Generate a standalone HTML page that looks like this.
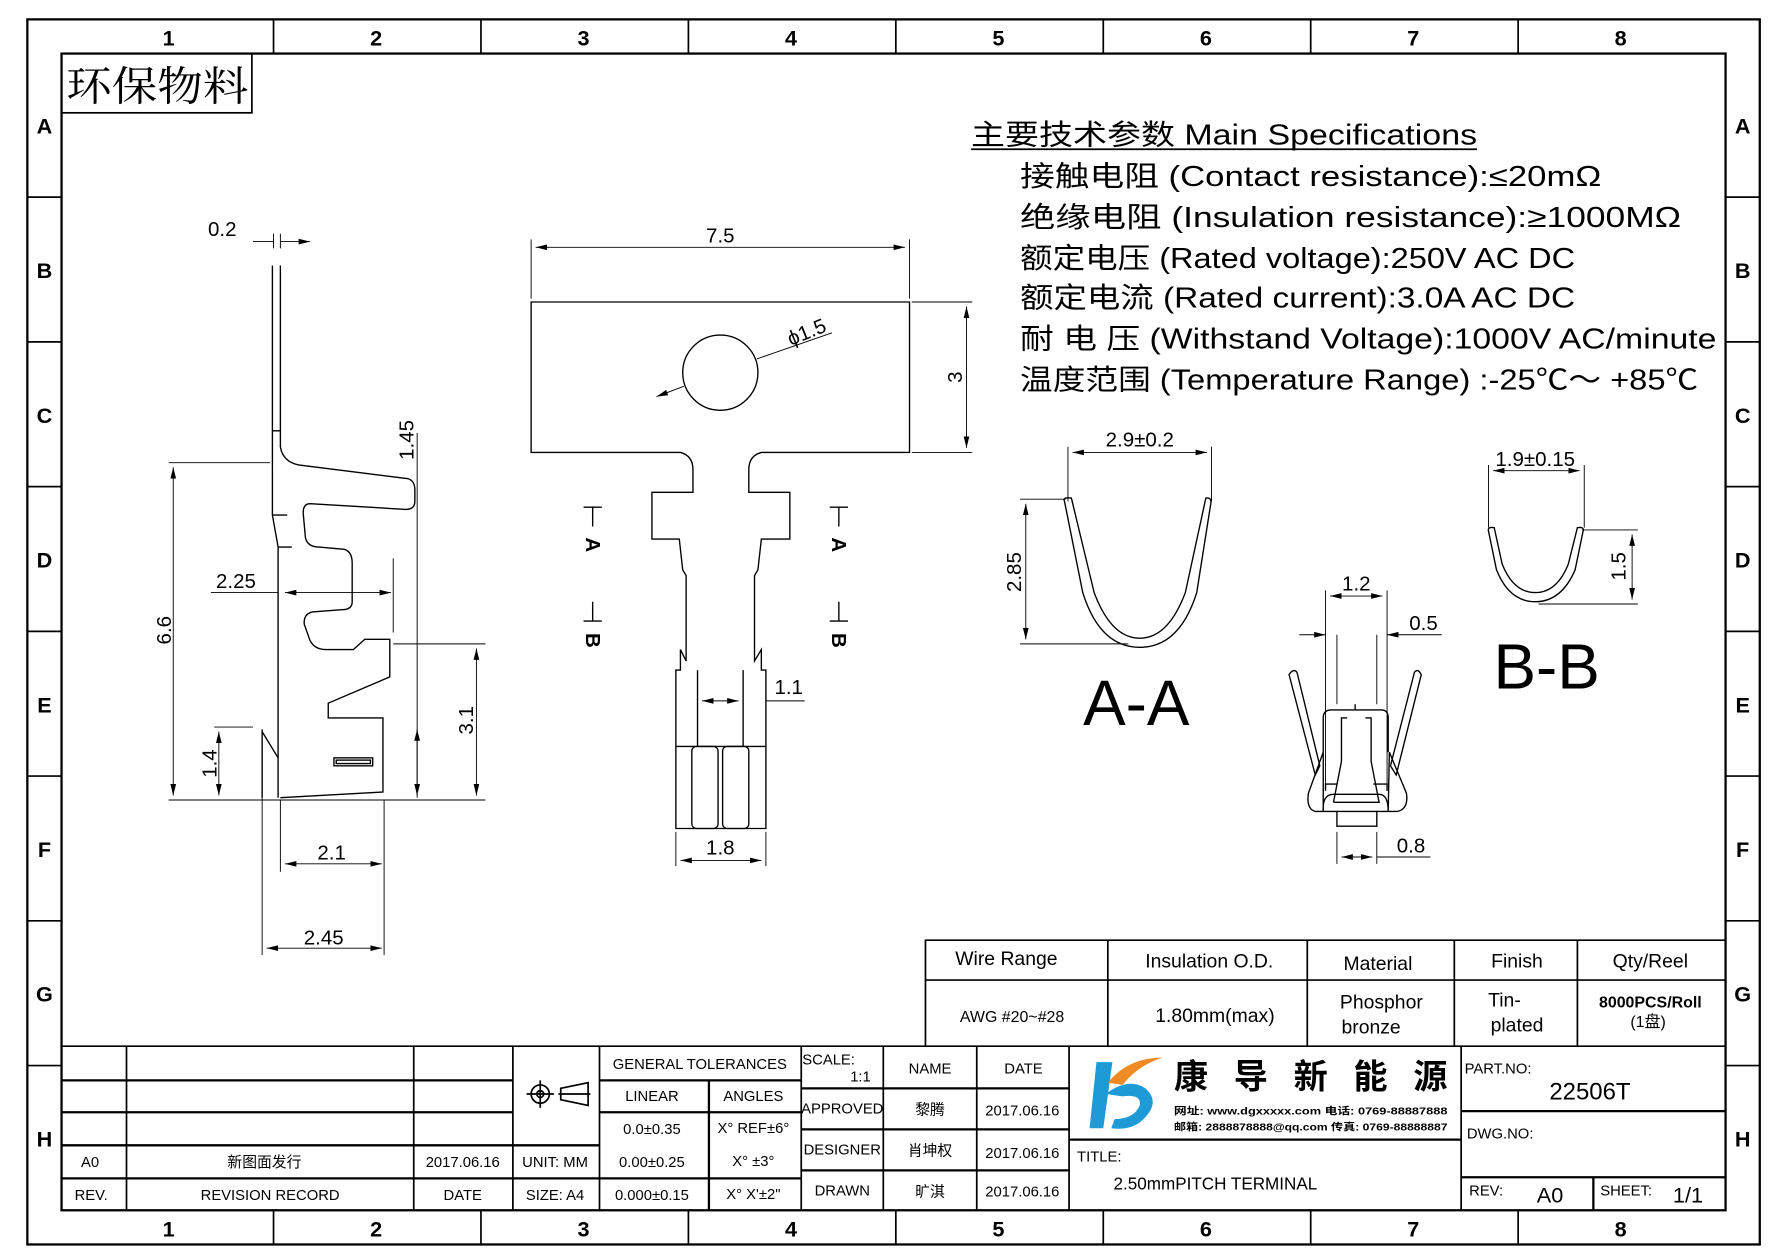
<!DOCTYPE html>
<html><head><meta charset="utf-8"><style>
html,body{margin:0;padding:0;background:#fff;}
svg{display:block;}
text{font-family:"Liberation Sans Narrow","Liberation Sans","Noto Sans CJK SC",sans-serif;fill:#000;}
.m{font-family:"Liberation Mono","Noto Sans CJK SC",monospace;}
.s{font-family:"Liberation Serif","Noto Serif CJK SC",serif;}
</style></head><body>
<svg width="1778" height="1257" viewBox="0 0 1560 1103" preserveAspectRatio="none" xmlns="http://www.w3.org/2000/svg">
<defs>
<marker id="a" viewBox="0 0 10 6" refX="10" refY="3" markerWidth="10" markerHeight="6" orient="auto-start-reverse" markerUnits="userSpaceOnUse"><path d="M0,0.5L10,3L0,5.5z" fill="#000"/></marker>
</defs>
<rect width="1560" height="1103" fill="#fff"/>
<g fill="none" stroke="#000">
<rect x="24" y="17" width="1520" height="1075" stroke-width="2"/>
<rect x="54" y="47" width="1460" height="1015" stroke-width="2"/>
<path d="M240,17V47M422,17V47M604,17V47M786,17V47M968,17V47M1150,17V47M1332,17V47M240,1062V1092M422,1062V1092M604,1062V1092M786,1062V1092M968,1062V1092M1150,1062V1092M1332,1062V1092" stroke-width="1.5"/>
<path d="M24,173H54M24,300H54M24,427H54M24,554H54M24,681H54M24,808H54M24,935H54M1514,173H1544M1514,300H1544M1514,427H1544M1514,554H1544M1514,681H1544M1514,808H1544M1514,935H1544" stroke-width="1.5"/>
<rect x="54" y="47" width="167" height="52" stroke-width="1.5"/>
</g>
<g font-size="19" text-anchor="middle" font-weight="bold">
<text x="148" y="40">1</text><text x="330" y="40">2</text><text x="512" y="40">3</text><text x="694" y="40">4</text><text x="876" y="40">5</text><text x="1058" y="40">6</text><text x="1240" y="40">7</text><text x="1422" y="40">8</text>
<text x="148" y="1085">1</text><text x="330" y="1085">2</text><text x="512" y="1085">3</text><text x="694" y="1085">4</text><text x="876" y="1085">5</text><text x="1058" y="1085">6</text><text x="1240" y="1085">7</text><text x="1422" y="1085">8</text>
<text x="39" y="117">A</text><text x="39" y="244">B</text><text x="39" y="371">C</text><text x="39" y="498">D</text><text x="39" y="625">E</text><text x="39" y="752">F</text><text x="39" y="879">G</text><text x="39" y="1006">H</text>
<text x="1529" y="117">A</text><text x="1529" y="244">B</text><text x="1529" y="371">C</text><text x="1529" y="498">D</text><text x="1529" y="625">E</text><text x="1529" y="752">F</text><text x="1529" y="879">G</text><text x="1529" y="1006">H</text>
</g>
<text x="58" y="88" font-size="36" class="s" textLength="160" lengthAdjust="spacingAndGlyphs">环保物料</text>

<!-- specs -->
<g font-size="25" class="m">
<text x="852" y="127" textLength="444" lengthAdjust="spacingAndGlyphs">主要技术参数 Main Specifications</text>
<text x="895" y="163" textLength="510" lengthAdjust="spacingAndGlyphs">接触电阻 (Contact resistance):≤20mΩ</text>
<text x="895" y="199" textLength="580" lengthAdjust="spacingAndGlyphs">绝缘电阻 (Insulation resistance):≥1000MΩ</text>
<text x="895" y="235" textLength="487" lengthAdjust="spacingAndGlyphs">额定电压 (Rated voltage):250V AC DC</text>
<text x="895" y="270" textLength="487" lengthAdjust="spacingAndGlyphs">额定电流 (Rated current):3.0A AC DC</text>
<text x="895" y="306" textLength="611" lengthAdjust="spacingAndGlyphs">耐 电 压 (Withstand Voltage):1000V AC/minute</text>
<text x="895" y="342" textLength="595" lengthAdjust="spacingAndGlyphs">温度范围 (Temperature Range) :-25℃～ +85℃</text>
</g>
<line x1="852" y1="131" x2="1296" y2="131" stroke="#000" stroke-width="1.5"/>

<!-- side view -->
<g fill="none" stroke="#000" stroke-width="1.2">
<path d="M239,233V452L244,480V700M246,233V392Q248,405 262,408L358,420Q364,422 364,430V440Q364,447 356,447L272,442Q266,442 266,450L268,472Q270,480 280,480L302,482Q309,484 309,494V528Q309,535 300,535L274,537Q266,539 267,548L272,562Q276,570 286,570L310,570L320,561H342V594L288,617V630H336V695L246,700"/>
<path d="M239,378H246M239,452H252M244,480H256"/>
<path d="M230,640V700M230,642L244,665"/>
<rect x="293" y="665" width="34" height="7"/>
<rect x="295" y="667" width="30" height="3"/>
</g>
<g fill="none" stroke="#000" stroke-width="0.8">
<path d="M240,205V218M246,205V218M222,212H240M246,212H272" marker-end="url(#a)"/>
<path d="M148,406H237M148,702H426M345,565H426M188,638H222M366,380V700M246,702V765M337,702V838M230,650V838M345,490V555"/>
<path d="M152,410V698" marker-start="url(#a)" marker-end="url(#a)"/>
<path d="M192,642V698" marker-start="url(#a)" marker-end="url(#a)"/>
<path d="M418,569V698" marker-start="url(#a)" marker-end="url(#a)"/>
<path d="M366,640V698" marker-start="url(#a)" marker-end="url(#a)"/>
<path d="M185,520H244" /><path d="M250,520H343" marker-start="url(#a)" marker-end="url(#a)"/>
<path d="M250,758H335" marker-start="url(#a)" marker-end="url(#a)"/>
<path d="M234,832H335" marker-start="url(#a)" marker-end="url(#a)"/>
</g>
<g font-size="18" text-anchor="middle" fill="#000" style="font-weight:300">
<text x="195" y="207">0.2</text>
<text x="207" y="516">2.25</text>
<text x="291" y="754">2.1</text>
<text x="284" y="829">2.45</text>
<text transform="translate(150,553) rotate(-90)">6.6</text>
<text transform="translate(190,670) rotate(-90)">1.4</text>
<text transform="translate(415,632) rotate(-90)">3.1</text>
<text transform="translate(363,386) rotate(-90)">1.45</text>
</g>

<!-- top view -->
<g fill="none" stroke="#000" stroke-width="1.2">
<path d="M466,265H798V397H668Q657,400 657,412V432H693V473H668L665,500L662,505V580L668,570V588H672V727H593V588H597V570L602,580V505L599,500L596,473H572V432H608V412Q608,400 597,397H466Z"/>
<circle cx="632" cy="327" r="33"/>
<path d="M612,588V655M652,588V655M593,655H672"/>
<rect x="607" y="655" width="23" height="72" rx="4"/>
<rect x="634" y="655" width="23" height="72" rx="4"/>
</g>
<g fill="none" stroke="#000" stroke-width="0.8">
<path d="M466,210V262M798,210V262M800,265H853M800,397H853M593,760V730M672,760V730M672,615H706"/>
<path d="M470,217H794" marker-start="url(#a)" marker-end="url(#a)"/>
<path d="M848,269V393" marker-start="url(#a)" marker-end="url(#a)"/>
<path d="M576,348L600,339M664,315L730,292" marker-start="url(#a)"/>
<path d="M616,615H648" marker-start="url(#a)" marker-end="url(#a)"/>
<path d="M597,755H668" marker-start="url(#a)" marker-end="url(#a)"/>
<path d="M520,445V462M520,528V545M736,445V462M736,528V545M512,445H528M512,545H528M728,445H744M728,545H744" stroke-width="1.2"/>
</g>
<g font-size="18" text-anchor="middle" style="font-weight:300">
<text x="632" y="213">7.5</text>
<text transform="translate(844,331) rotate(-90)">3</text>
<text transform="translate(710,297) rotate(-22)">ϕ1.5</text>
<text x="692" y="609">1.1</text>
<text x="632" y="750">1.8</text>
</g>
<g font-size="18" font-weight="bold" text-anchor="middle">
<text transform="translate(514,478) rotate(90)">A</text>
<text transform="translate(514,562) rotate(90)">B</text>
<text transform="translate(730,478) rotate(90)">A</text>
<text transform="translate(730,562) rotate(90)">B</text>
</g>

<!-- A-A -->
<g fill="none" stroke="#000" stroke-width="1.2">
<path d="M934,440Q932,436 940,437L960,520Q975,560 1000,560Q1025,560 1040,520L1058,437Q1064,436 1062,444L1050,520Q1035,568 1000,568Q965,568 950,520Z"/>
</g>
<g fill="none" stroke="#000" stroke-width="0.8">
<path d="M937,392V440M1063,392V440M895,438H935M895,565H990"/>
<path d="M941,397H1059" marker-start="url(#a)" marker-end="url(#a)"/>
<path d="M900,442V561" marker-start="url(#a)" marker-end="url(#a)"/>
</g>
<text x="1000" y="392" font-size="18" text-anchor="middle">2.9±0.2</text>
<text transform="translate(896,502) rotate(-90)" font-size="18" text-anchor="middle">2.85</text>
<text x="997" y="636" font-size="56" text-anchor="middle" style="font-family:'Liberation Sans',sans-serif">A-A</text>

<!-- B-B -->
<g fill="none" stroke="#000" stroke-width="1.2">
<path d="M1306,466Q1305,462 1311,463L1318,495Q1328,520 1347,520Q1366,520 1376,495L1384,463Q1390,462 1389,466L1382,500Q1370,528 1347,528Q1324,528 1313,500Z"/>
</g>
<g fill="none" stroke="#000" stroke-width="0.8">
<path d="M1306,408V463M1390,408V463M1388,465H1437M1350,530H1437"/>
<path d="M1310,413H1386" marker-start="url(#a)" marker-end="url(#a)"/>
<path d="M1432,469V526" marker-start="url(#a)" marker-end="url(#a)"/>
</g>
<text x="1347" y="409" font-size="18" text-anchor="middle">1.9±0.15</text>
<text transform="translate(1426,497) rotate(-90)" font-size="18" text-anchor="middle">1.5</text>
<text x="1357" y="604" font-size="56" text-anchor="middle" style="font-family:'Liberation Sans',sans-serif">B-B</text>

<!-- center section -->
<g fill="none" stroke="#000" stroke-width="1.2">
<path d="M1131,592Q1135,586 1138,590L1158,672L1154,680Z"/>
<path d="M1247,592Q1244,586 1241,590L1220,672L1225,680Z"/>
<path d="M1163,694V688H1173M1205,688H1217V694"/>
<path d="M1161,712Q1160,697 1170,697H1210Q1218,697 1218,712L1219,660L1234,696Q1236,710 1226,712H1154Q1146,710 1148,696L1161,660Z"/>
<path d="M1170,704H1210L1203,668V630H1198M1170,704L1177,668V630H1182"/>
<path d="M1161,660V630Q1161,623 1168,623H1212Q1218,623 1218,630V660"/>
<path d="M1173,712V725H1208V712"/>
<path d="M1189,618V623"/>
</g>
<g fill="none" stroke="#000" stroke-width="0.8">
<path d="M1163,518V690M1217,518V690M1173,557V618M1208,557V618M1173,730V758M1208,730V758"/>
<path d="M1167,523H1213" marker-start="url(#a)" marker-end="url(#a)"/>
<path d="M1140,557H1163" marker-end="url(#a)"/><path d="M1265,557H1217" marker-end="url(#a)"/>
<path d="M1177,752H1204" marker-start="url(#a)" marker-end="url(#a)"/>
<path d="M1208,752H1255"/>
</g>
<g font-size="18" text-anchor="middle">
<text x="1190" y="518">1.2</text><text x="1249" y="553">0.5</text><text x="1238" y="748">0.8</text>
</g>

<!-- wire table -->
<g fill="none" stroke="#000" stroke-width="1.5">
<path d="M812,918V825H1514M812,860H1514M972,825V918M1147,825V918M1276,825V918M1384,825V918"/>
</g>
<g class="s" font-size="17" text-anchor="middle">
<text x="883" y="847">Wire Range</text>
<text x="1061" y="849">Insulation O.D.</text>
<text x="1209" y="851">Material</text>
<text x="1331" y="849">Finish</text>
<text x="1448" y="849">Qty/Reel</text>
<text x="888" y="897" font-size="14">AWG #20~#28</text>
<text x="1066" y="897">1.80mm(max)</text>
<text x="1212" y="885">Phosphor</text><text x="1203" y="907">bronze</text>
<text x="1320" y="883">Tin-</text><text x="1331" y="905">plated</text>
<text x="1448" y="884" font-size="14" font-weight="bold" style="font-family:'Liberation Sans',sans-serif">8000PCS/Roll</text>
<text x="1446" y="901" font-size="14">(1盘)</text>
</g>

<!-- title block -->
<g fill="none" stroke="#000" stroke-width="1.5">
<path d="M54,918H1514M111,918V1062M363,918V1062M450,918V1062M526,918V1062M703,918V1062M775,918V1062M857,918V1062M938,918V1062M1282,918V1062"/>
<path d="M54,948H450M54,976H450M54,1005H526M54,1034H703M526,948H703M622,948V1062M526,976H703M703,955H938M703,991H938M703,1027H938M938,1000H1282M1282,975H1514M1282,1033H1514M1398,1033V1062" stroke-width="2"/>
</g>
<g class="s" font-size="13" text-anchor="middle">
<text x="79" y="1024">A0</text><text x="232" y="1024">新图面发行</text><text x="406" y="1024">2017.06.16</text>
<text x="80" y="1053">REV.</text><text x="237" y="1053">REVISION RECORD</text><text x="406" y="1053">DATE</text>
<text x="487" y="1024">UNIT: MM</text><text x="487" y="1053">SIZE: A4</text>
<text x="614" y="938">GENERAL TOLERANCES</text>
<text x="572" y="966">LINEAR</text><text x="661" y="966">ANGLES</text>
<text x="572" y="995">0.0±0.35</text><text x="661" y="994">X° REF±6°</text>
<text x="572" y="1024">0.00±0.25</text><text x="661" y="1023">X° ±3°</text>
<text x="572" y="1053">0.000±0.15</text><text x="661" y="1052">X° X'±2"</text>
<text x="727" y="934">SCALE:</text><text x="755" y="949">1:1</text>
<text x="739" y="977">APPROVED</text><text x="739" y="1013">DESIGNER</text><text x="739" y="1049">DRAWN</text>
<text x="816" y="942">NAME</text><text x="816" y="978">黎腾</text><text x="816" y="1014">肖坤权</text><text x="816" y="1050">旷淇</text>
<text x="898" y="942">DATE</text><text x="897" y="979">2017.06.16</text><text x="897" y="1016">2017.06.16</text><text x="897" y="1050">2017.06.16</text>
</g>
<g fill="none" stroke="#000" stroke-width="1.5">
<circle cx="474" cy="960" r="8"/><circle cx="474" cy="960" r="3"/>
<path d="M462,960H486M474,948V972M492,955L516,950V970L492,965ZM490,960H518"/>
</g>
<!-- logo -->
<path d="M962,932L976,932L968,990L956,990Z" fill="#1e9ad6"/>
<path d="M970,960Q990,945 1005,955Q1020,968 1000,985Q990,992 975,990L978,982Q995,982 1000,970Q1002,960 985,962Z" fill="#1e9ad6"/>
<path d="M972,950Q990,928 1020,928Q998,935 985,952Z" fill="#f08a24"/>
<text x="1030" y="955" font-size="30" style="font-family:'Noto Sans CJK SC',sans-serif;font-weight:bold" textLength="240" lengthAdjust="spacing">康导新能源</text>
<text x="1030" y="978" font-size="9" font-weight="bold" textLength="240" lengthAdjust="spacingAndGlyphs">网址: www.dgxxxxx.com  电话: 0769-88887888</text>
<text x="1030" y="992" font-size="9" font-weight="bold" textLength="240" lengthAdjust="spacingAndGlyphs">邮箱: 2888878888@qq.com 传真: 0769-88888887</text>
<g class="s">
<text x="945" y="1019" font-size="13">TITLE:</text>
<text x="977" y="1044" font-size="15">2.50mmPITCH TERMINAL</text>
<text x="1285" y="942" font-size="13">PART.NO:</text>
<text x="1395" y="965" font-size="21" text-anchor="middle">22506T</text>
<text x="1287" y="999" font-size="13">DWG.NO:</text>
<text x="1289" y="1049" font-size="13">REV:</text>
<text x="1360" y="1055" font-size="19" text-anchor="middle">A0</text>
<text x="1404" y="1049" font-size="13">SHEET:</text>
<text x="1481" y="1055" font-size="19" text-anchor="middle">1/1</text>
</g>
</svg>
</body></html>
